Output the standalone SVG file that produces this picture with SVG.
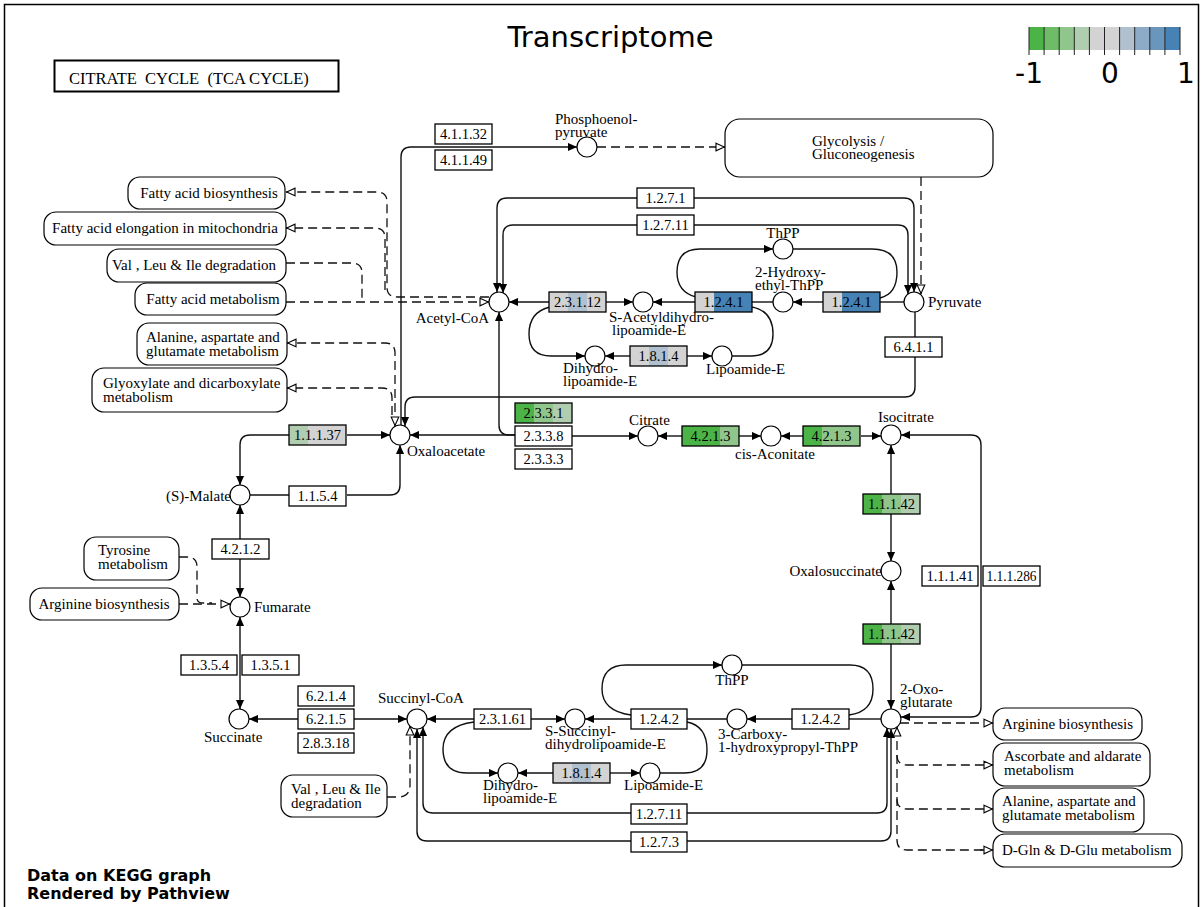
<svg xmlns="http://www.w3.org/2000/svg" width="1203" height="907" viewBox="0 0 1203 907">
<style>
text{font-family:"Liberation Serif","Times New Roman",serif;font-size:15px;fill:#000}
.en text{text-anchor:middle;font-size:14.5px}
.en .w{fill:#fff;stroke:#000;stroke-width:1.3}
.en .b{fill:none;stroke:#000;stroke-width:1.3}
.cp circle{fill:#fff;stroke:#000;stroke-width:1.2}
.mp rect{fill:#fff;stroke:#000;stroke-width:1.2}
.ln{fill:none;stroke:#111;stroke-width:1.4}
.ds{fill:none;stroke:#111;stroke-width:1.3;stroke-dasharray:9 5}
text.ttl{font-family:"DejaVu Sans",sans-serif;font-size:29px;text-anchor:middle}
text.lg{font-family:"DejaVu Sans",sans-serif;font-size:28px;text-anchor:middle}
text.ft{font-family:"DejaVu Sans",sans-serif;font-size:16px;font-weight:bold}
text.pt{font-size:16.5px;white-space:pre}
.g1{fill:#4CB347}.g2{fill:#6EBB68}.g3{fill:#90C68B}.g4{fill:#B1CDB0}.gr{fill:#D3D3D3}.b1{fill:#B1C0CF}.b2{fill:#8FAAC6}.b3{fill:#6A96BE}.b4{fill:#4682B4}
</style>
<defs>
<marker id="fa" viewBox="0 0 10 10" refX="10" refY="5" markerWidth="9" markerHeight="9" markerUnits="userSpaceOnUse" orient="auto-start-reverse"><path d="M0,0.5 L10,5 L0,9.5 z" fill="#000"/></marker>
<marker id="oa" viewBox="0 0 10 10" refX="10" refY="5" markerWidth="10" markerHeight="10" markerUnits="userSpaceOnUse" orient="auto-start-reverse"><path d="M1,1.2 L9.4,5 L1,8.8 z" fill="#fff" stroke="#000" stroke-width="1.1"/></marker>
</defs>
<rect x="4.5" y="4.5" width="1194" height="910" fill="#fff" stroke="#000" stroke-width="1.5"/>

<g id="title"><text class="ttl" x="610.5" y="47">Transcriptome</text></g>
<g id="legend">
<rect class="g1" x="1029" y="27" width="15.1" height="23"/>
<rect class="g2" x="1044.1" y="27" width="15.1" height="23"/>
<rect class="g3" x="1059.2" y="27" width="15.1" height="23"/>
<rect class="g4" x="1074.3" y="27" width="15.1" height="23"/>
<rect class="gr" x="1089.4" y="27" width="15.1" height="23"/>
<rect class="gr" x="1104.5" y="27" width="15.1" height="23"/>
<rect class="b1" x="1119.6" y="27" width="15.1" height="23"/>
<rect class="b2" x="1134.7" y="27" width="15.1" height="23"/>
<rect class="b3" x="1149.8" y="27" width="15.1" height="23"/>
<rect class="b4" x="1164.9" y="27" width="15.1" height="23"/>
<path d="M1029 27V55M1044.1 27V55M1059.2 27V55M1074.3 27V55M1089.4 27V55M1104.5 27V55M1119.6 27V55M1134.7 27V55M1149.8 27V55M1164.9 27V55M1180 27V55" stroke="#222" stroke-width="1"/>
<text class="lg" x="1029" y="83">-1</text>
<text class="lg" x="1110" y="83">0</text>
<text class="lg" x="1186" y="83">1</text>
</g>
<g id="pathway-title"><rect x="54.5" y="60.5" width="284" height="31" fill="#fff" stroke="#000" stroke-width="2"/><text class="pt" x="69" y="84">CITRATE  CYCLE  (TCA CYCLE)</text></g>
<g id="footer"><text class="ft" x="27" y="881">Data on KEGG graph</text><text class="ft" x="27" y="899">Rendered by Pathview</text></g>

<g id="connectors">
<path class="ln" marker-end="url(#fa)" d="M401 425 V157 Q401 147 411 147 H577"/>
<path class="ds" marker-end="url(#oa)" d="M597 147 H725"/>
<path class="ds" marker-end="url(#oa)" d="M921 177 V294"/>
<path class="ln" marker-end="url(#fa)" d="M637 198 H507 Q497 198 497 208 V292"/>
<path class="ln" marker-end="url(#fa)" d="M694 198 H904 Q914 198 914 208 V292"/>
<path class="ln" marker-end="url(#fa)" d="M637 225 H513 Q503 225 503 235 V293"/>
<path class="ln" marker-end="url(#fa)" d="M694 225 H898 Q908 225 908 235 V294"/>
<path class="ln" marker-end="url(#fa)" d="M549 302 H509"/>
<path class="ln" marker-end="url(#fa)" d="M606 302 H633"/>
<path class="ln" marker-end="url(#fa)" d="M695 302 H653"/>
<path class="ln" d="M752 302 H773"/>
<path class="ln" marker-end="url(#fa)" d="M823 302 H793"/>
<path class="ln" d="M880 302 H904"/>
<path class="ln" marker-end="url(#fa)" d="M696 297 Q677 292 677 272 Q677 249 700 249 H773"/>
<path class="ln" d="M793 249 H872 Q897 249 897 272 Q897 294 880 298"/>
<path class="ln" marker-end="url(#fa)" d="M550 307 Q529 312 529 334 Q529 356 551 356 H585"/>
<path class="ln" marker-end="url(#fa)" d="M630 356 H605"/>
<path class="ln" marker-end="url(#fa)" d="M687 356 H712"/>
<path class="ln" d="M732 356 H751 Q773 356 773 334 Q773 311 752 307"/>
<path class="ln" marker-end="url(#fa)" d="M915 312 V387 Q915 397 905 397 H415 Q405 397 405 407 V426"/>
<path class="ln" marker-end="url(#fa)" d="M515 435 H509 Q499 435 499 425 V312"/>
<path class="ln" marker-end="url(#fa)" d="M515 435 H410"/>
<path class="ln" marker-end="url(#fa)" d="M572 436 H638"/>
<path class="ln" marker-end="url(#fa)" d="M682 436 H658"/>
<path class="ln" marker-end="url(#fa)" d="M738 436 H761"/>
<path class="ln" marker-end="url(#fa)" d="M803 436 H781"/>
<path class="ln" marker-end="url(#fa)" d="M861 436 H881"/>
<path class="ln" marker-start="url(#fa)" marker-end="url(#fa)" d="M891 445 V561"/>
<path class="ln" marker-start="url(#fa)" marker-end="url(#fa)" d="M891 581 V709"/>
<path class="ln" marker-start="url(#fa)" marker-end="url(#fa)" d="M901 435 H971 Q981 435 981 445 V707 Q981 717 971 717 H901"/>
<path class="ln" marker-end="url(#fa)" d="M347 435 H390"/>
<path class="ln" marker-end="url(#fa)" d="M289 435 H250 Q240 435 240 445 V485"/>
<path class="ln" d="M250 495 H289"/>
<path class="ln" marker-end="url(#fa)" d="M347 495 H390 Q400 495 400 485 V445"/>
<path class="ln" marker-start="url(#fa)" marker-end="url(#fa)" d="M240 505 V597"/>
<path class="ln" marker-start="url(#fa)" marker-end="url(#fa)" d="M240 617 V709"/>
<path class="ln" marker-start="url(#fa)" marker-end="url(#fa)" d="M249 719 H407"/>
<path class="ln" marker-end="url(#fa)" d="M474 719 H427"/>
<path class="ln" marker-end="url(#fa)" d="M531 719 H565"/>
<path class="ln" marker-end="url(#fa)" d="M631 719 H585"/>
<path class="ln" d="M687 719 H727"/>
<path class="ln" marker-end="url(#fa)" d="M792 719 H747"/>
<path class="ln" d="M849 719 H881"/>
<path class="ln" marker-end="url(#fa)" d="M631 715 Q602 711 602 689 Q602 665 626 665 H722"/>
<path class="ln" d="M742 665 H850 Q873 665 873 689 Q873 712 849 715"/>
<path class="ln" marker-end="url(#fa)" d="M474 722 Q443 726 443 749 Q443 773 467 773 H498"/>
<path class="ln" marker-end="url(#fa)" d="M553 773 H518"/>
<path class="ln" marker-end="url(#fa)" d="M610 773 H640"/>
<path class="ln" d="M660 773 H684 Q707 773 707 750 Q707 726 687 722"/>
<path class="ln" marker-end="url(#fa)" d="M631 813 H433 Q423 813 423 803 V727"/>
<path class="ln" marker-end="url(#fa)" d="M687 813 H877 Q887 813 887 803 V728"/>
<path class="ln" marker-end="url(#fa)" d="M631 841 H427 Q417 841 417 831 V729"/>
<path class="ln" marker-end="url(#fa)" d="M687 841 H881 Q891 841 891 831 V729"/>
<path class="ds" marker-end="url(#oa)" d="M489 297 H397 Q387 297 387 287 V202 Q387 192 377 192 H286"/>
<path class="ds" marker-end="url(#oa)" d="M385 290 V238 Q385 228 375 228 H286"/>
<path class="ds" d="M286 263 H352 Q362 263 362 273 V302"/>
<path class="ds" marker-end="url(#oa)" d="M286 302 H489"/>
<path class="ds" marker-start="url(#oa)" marker-end="url(#oa)" d="M395 426 V353 Q395 343 385 343 H287"/>
<path class="ds" marker-end="url(#oa)" d="M392 415 V398 Q392 388 382 388 H287"/>
<path class="ds" marker-end="url(#oa)" d="M179 604 H230"/>
<path class="ds" d="M179 557 H187 Q197 557 197 567 V598 Q197 603 203 603 H212"/>
<path class="ds" marker-end="url(#oa)" d="M387 797 H398 Q410 797 410 785 V726"/>
<path class="ds" marker-end="url(#oa)" d="M900 723 H993"/>
<path class="ds" marker-start="url(#oa)" d="M897 727 V840 Q897 850 907 850 H993"/>
<path class="ds" marker-end="url(#oa)" d="M897 755 Q897 765 907 765 H993"/>
<path class="ds" marker-end="url(#oa)" d="M897 799 Q897 809 907 809 H993"/>
<path class="ds" marker-end="url(#oa)" d="M980 850 H993"/>
</g>

<g id="maps" class="mp">
<g id="m_glycolysis"><rect x="725" y="119" width="268" height="58" rx="15"/><text x="812" y="146">Glycolysis /</text><text x="812" y="159">Gluconeogenesis</text></g>
<g id="m_fa_bio"><rect x="128" y="177" width="157" height="32" rx="12"/><text x="209" y="198" text-anchor="middle">Fatty acid biosynthesis</text></g>
<g id="m_fa_elong"><rect x="44" y="212" width="242" height="33" rx="12"/><text x="165" y="233" text-anchor="middle">Fatty acid elongation in mitochondria</text></g>
<g id="m_vli1"><rect x="107" y="249" width="179" height="33" rx="12"/><text x="194" y="270" text-anchor="middle">Val , Leu &amp; Ile degradation</text></g>
<g id="m_fa_met"><rect x="135" y="283" width="151" height="32" rx="12"/><text x="213" y="304" text-anchor="middle">Fatty acid metabolism</text></g>
<g id="m_ala1"><rect x="137" y="323" width="150" height="42" rx="12"/><text x="146" y="342">Alanine, aspartate and</text><text x="146" y="356">glutamate metabolism</text></g>
<g id="m_glyox"><rect x="92" y="368" width="195" height="44" rx="12"/><text x="103" y="388">Glyoxylate and dicarboxylate</text><text x="103" y="402">metabolism</text></g>
<g id="m_tyr"><rect x="84" y="537" width="95" height="43" rx="12"/><text x="98" y="555">Tyrosine</text><text x="98" y="569">metabolism</text></g>
<g id="m_arg1"><rect x="30" y="588" width="149" height="32" rx="12"/><text x="104" y="609" text-anchor="middle">Arginine biosynthesis</text></g>
<g id="m_vli2"><rect x="281" y="775" width="106" height="42" rx="12"/><text x="291" y="794">Val , Leu &amp; Ile</text><text x="291" y="808">degradation</text></g>
<g id="m_arg2"><rect x="993" y="708" width="149" height="32" rx="12"/><text x="1002" y="729">Arginine biosynthesis</text></g>
<g id="m_asc"><rect x="993" y="743" width="157" height="43" rx="12"/><text x="1004" y="761">Ascorbate and aldarate</text><text x="1004" y="775">metabolism</text></g>
<g id="m_ala2"><rect x="993" y="788" width="151" height="44" rx="12"/><text x="1002" y="806">Alanine, aspartate and</text><text x="1002" y="820">glutamate metabolism</text></g>
<g id="m_dgln"><rect x="993" y="834" width="189" height="33" rx="12"/><text x="1002" y="855">D-Gln &amp; D-Glu metabolism</text></g>
</g>

<g id="enzymes" class="en">
<g id="e_4_1_1_32"><rect class="w" x="435" y="124" width="57" height="20"/><text x="463.5" y="139">4.1.1.32</text></g>
<g id="e_4_1_1_49"><rect class="w" x="435" y="150" width="57" height="20"/><text x="463.5" y="165">4.1.1.49</text></g>
<g id="e_1_2_7_1"><rect class="w" x="637" y="188" width="57" height="20"/><text x="665.5" y="203">1.2.7.1</text></g>
<g id="e_1_2_7_11a"><rect class="w" x="637" y="215" width="57" height="20"/><text x="665.5" y="230">1.2.7.11</text></g>
<g id="e_2_3_1_12"><rect class="gr" x="549" y="292" width="19" height="20"/><rect class="b1" x="568" y="292" width="19" height="20"/><rect class="gr" x="587" y="292" width="19" height="20"/><rect class="b" x="549" y="292" width="57" height="20"/><text x="577.5" y="307">2.3.1.12</text></g>
<g id="e_1_2_4_1a"><rect class="gr" x="695" y="292" width="19" height="20"/><rect class="b4" x="714" y="292" width="38" height="20"/><rect class="b" x="695" y="292" width="57" height="20"/><text x="723.5" y="307">1.2.4.1</text></g>
<g id="e_1_2_4_1b"><rect class="gr" x="823" y="292" width="19" height="20"/><rect class="b4" x="842" y="292" width="38" height="20"/><rect class="b" x="823" y="292" width="57" height="20"/><text x="851.5" y="307">1.2.4.1</text></g>
<g id="e_1_8_1_4a"><rect class="gr" x="630" y="346" width="19" height="20"/><rect class="b1" x="649" y="346" width="19" height="20"/><rect class="gr" x="668" y="346" width="19" height="20"/><rect class="b" x="630" y="346" width="57" height="20"/><text x="658.5" y="361">1.8.1.4</text></g>
<g id="e_6_4_1_1"><rect class="w" x="885" y="337" width="57" height="20"/><text x="913.5" y="352">6.4.1.1</text></g>
<g id="e_2_3_3_1"><rect class="g1" x="515" y="403" width="19" height="20"/><rect class="g3" x="534" y="403" width="19" height="20"/><rect class="g4" x="553" y="403" width="19" height="20"/><rect class="b" x="515" y="403" width="57" height="20"/><text x="543.5" y="418">2.3.3.1</text></g>
<g id="e_2_3_3_8"><rect class="w" x="515" y="426" width="57" height="20"/><text x="543.5" y="441">2.3.3.8</text></g>
<g id="e_2_3_3_3"><rect class="w" x="515" y="449" width="57" height="20"/><text x="543.5" y="464">2.3.3.3</text></g>
<g id="e_4_2_1_3a"><rect class="g1" x="682" y="426" width="38" height="20"/><rect class="g3" x="720" y="426" width="19" height="20"/><rect class="b" x="682" y="426" width="57" height="20"/><text x="710.5" y="441">4.2.1.3</text></g>
<g id="e_4_2_1_3b"><rect class="g1" x="803" y="426" width="19" height="20"/><rect class="g3" x="822" y="426" width="38" height="20"/><rect class="b" x="803" y="426" width="57" height="20"/><text x="831.5" y="441">4.2.1.3</text></g>
<g id="e_1_1_1_37"><rect class="g4" x="289" y="425" width="19" height="20"/><rect class="gr" x="308" y="425" width="38" height="20"/><rect class="b" x="289" y="425" width="57" height="20"/><text x="317.5" y="440">1.1.1.37</text></g>
<g id="e_1_1_5_4"><rect class="w" x="289" y="486" width="57" height="20"/><text x="317.5" y="501">1.1.5.4</text></g>
<g id="e_1_1_1_42a"><rect class="g1" x="863" y="494" width="19" height="20"/><rect class="g3" x="882" y="494" width="19" height="20"/><rect class="g4" x="901" y="494" width="19" height="20"/><rect class="b" x="863" y="494" width="57" height="20"/><text x="891.5" y="509">1.1.1.42</text></g>
<g id="e_1_1_1_42b"><rect class="g1" x="863" y="624" width="19" height="20"/><rect class="g3" x="882" y="624" width="19" height="20"/><rect class="g4" x="901" y="624" width="19" height="20"/><rect class="b" x="863" y="624" width="57" height="20"/><text x="891.5" y="639">1.1.1.42</text></g>
<g id="e_1_1_1_41"><rect class="w" x="922" y="566" width="56" height="20"/><text x="950" y="581">1.1.1.41</text></g>
<g id="e_1_1_1_286"><rect class="w" x="983" y="566" width="57" height="20"/><text x="1011.5" y="581" textLength="50" lengthAdjust="spacingAndGlyphs">1.1.1.286</text></g>
<g id="e_4_2_1_2"><rect class="w" x="212" y="539" width="57" height="20"/><text x="240.5" y="554">4.2.1.2</text></g>
<g id="e_1_3_5_4"><rect class="w" x="181" y="655" width="56" height="20"/><text x="209" y="670">1.3.5.4</text></g>
<g id="e_1_3_5_1"><rect class="w" x="242" y="655" width="57" height="20"/><text x="270.5" y="670">1.3.5.1</text></g>
<g id="e_6_2_1_4"><rect class="w" x="298" y="686" width="56" height="20"/><text x="326" y="701">6.2.1.4</text></g>
<g id="e_6_2_1_5"><rect class="w" x="298" y="709" width="56" height="20"/><text x="326" y="724">6.2.1.5</text></g>
<g id="e_2_8_3_18"><rect class="w" x="298" y="733" width="56" height="20"/><text x="326" y="748">2.8.3.18</text></g>
<g id="e_2_3_1_61"><rect class="w" x="474" y="709" width="57" height="20"/><text x="502.5" y="724">2.3.1.61</text></g>
<g id="e_1_2_4_2a"><rect class="w" x="631" y="709" width="56" height="20"/><text x="659" y="724">1.2.4.2</text></g>
<g id="e_1_2_4_2b"><rect class="w" x="792" y="709" width="57" height="20"/><text x="820.5" y="724">1.2.4.2</text></g>
<g id="e_1_8_1_4b"><rect class="gr" x="553" y="763" width="19" height="20"/><rect class="b1" x="572" y="763" width="19" height="20"/><rect class="gr" x="591" y="763" width="19" height="20"/><rect class="b" x="553" y="763" width="57" height="20"/><text x="581.5" y="778">1.8.1.4</text></g>
<g id="e_1_2_7_11b"><rect class="w" x="631" y="804" width="56" height="20"/><text x="659" y="819">1.2.7.11</text></g>
<g id="e_1_2_7_3"><rect class="w" x="631" y="832" width="56" height="20"/><text x="659" y="847">1.2.7.3</text></g>
</g>

<g id="compounds" class="cp">
<g id="c_pep"><circle cx="587" cy="147" r="10"/><text x="555" y="124">Phosphoenol-</text><text x="555" y="137">pyruvate</text></g>
<g id="c_pyruvate"><circle cx="914" cy="302" r="10"/><text x="928" y="307">Pyruvate</text></g>
<g id="c_acetylcoa"><circle cx="499" cy="302" r="10"/><text x="489" y="323" text-anchor="end">Acetyl-CoA</text></g>
<g id="c_sacetyl"><circle cx="643" cy="302" r="10"/><text x="609" y="322">S-Acetyldihydro-</text><text x="612" y="335">lipoamide-E</text></g>
<g id="c_hethpp"><circle cx="783" cy="302" r="10"/><text x="755" y="277">2-Hydroxy-</text><text x="755" y="290">ethyl-ThPP</text></g>
<g id="c_thpp1"><circle cx="783" cy="249" r="10"/><text x="783" y="238" text-anchor="middle">ThPP</text></g>
<g id="c_dhlip1"><circle cx="595" cy="356" r="10"/><text x="563" y="373">Dihydro-</text><text x="563" y="386">lipoamide-E</text></g>
<g id="c_lip1"><circle cx="722" cy="356" r="10"/><text x="706" y="374">Lipoamide-E</text></g>
<g id="c_oxaloacetate"><circle cx="400" cy="435" r="10"/><text x="407" y="456">Oxaloacetate</text></g>
<g id="c_citrate"><circle cx="648" cy="436" r="10"/><text x="629" y="425">Citrate</text></g>
<g id="c_cisaconitate"><circle cx="771" cy="436" r="10"/><text x="735" y="459">cis-Aconitate</text></g>
<g id="c_isocitrate"><circle cx="891" cy="435" r="10"/><text x="878" y="422">Isocitrate</text></g>
<g id="c_oxalosuccinate"><circle cx="891" cy="571" r="10"/><text x="882" y="576" text-anchor="end">Oxalosuccinate</text></g>
<g id="c_oxoglutarate"><circle cx="891" cy="719" r="10"/><text x="900" y="694">2-Oxo-</text><text x="900" y="707">glutarate</text></g>
<g id="c_malate"><circle cx="240" cy="495" r="10"/><text x="231" y="501" text-anchor="end">(S)-Malate</text></g>
<g id="c_fumarate"><circle cx="240" cy="607" r="10"/><text x="254" y="612">Fumarate</text></g>
<g id="c_succinate"><circle cx="239" cy="719" r="10"/><text x="204" y="742">Succinate</text></g>
<g id="c_succinylcoa"><circle cx="417" cy="719" r="10"/><text x="378" y="703">Succinyl-CoA</text></g>
<g id="c_ssuccinyl"><circle cx="575" cy="719" r="10"/><text x="545" y="736">S-Succinyl-</text><text x="545" y="749">dihydrolipoamide-E</text></g>
<g id="c_carboxy"><circle cx="737" cy="719" r="10"/><text x="718" y="739">3-Carboxy-</text><text x="718" y="752">1-hydroxypropyl-ThPP</text></g>
<g id="c_thpp2"><circle cx="732" cy="665" r="10"/><text x="732" y="685" text-anchor="middle">ThPP</text></g>
<g id="c_dhlip2"><circle cx="508" cy="773" r="10"/><text x="483" y="790">Dihydro-</text><text x="483" y="803">lipoamide-E</text></g>
<g id="c_lip2"><circle cx="650" cy="773" r="10"/><text x="624" y="790">Lipoamide-E</text></g>
</g>
</svg>
